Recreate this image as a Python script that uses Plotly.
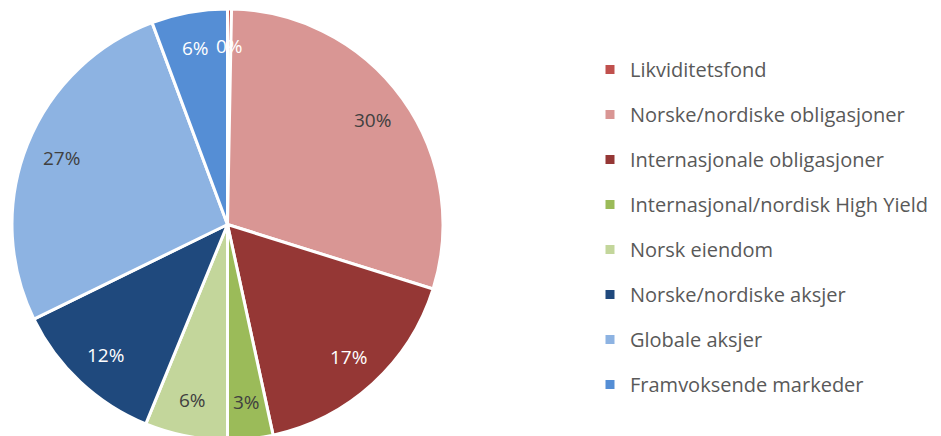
import math
import plotly.graph_objects as go

categories = [
    "Likviditetsfond",
    "Norske/nordiske obligasjoner",
    "Internasjonale obligasjoner",
    "Internasjonal/nordisk High Yield",
    "Norsk eiendom",
    "Norske/nordiske aksjer",
    "Globale aksjer",
    "Framvoksende markeder",
]
values = [0.3, 29.6, 16.8, 3.4, 6.2, 11.6, 26.6, 5.7]
colors = ["#C0504D", "#D99694", "#953735", "#9BBB59", "#C3D69B", "#1F497D", "#8DB3E2", "#558ED5"]
label_colors = ["#FFFFFF", "#404040", "#FFFFFF", "#404040", "#404040", "#FFFFFF", "#404040", "#FFFFFF"]

W, H = 941, 436
# pie geometry in figure pixels (page adds 8px offset)
PX0, PX1 = 4, 435
PY0, PY1 = 1, 432  # from top
dom_x = [PX0 / W, PX1 / W]
dom_y = [1 - PY1 / H, 1 - PY0 / H]

fig = go.Figure()
fig.add_trace(go.Pie(
    labels=categories,
    values=values,
    sort=False,
    direction="clockwise",
    rotation=0,
    marker=dict(colors=colors, line=dict(color="white", width=3)),
    textinfo="none",
    showlegend=False,
    hoverinfo="label+percent",
    domain=dict(x=dom_x, y=dom_y),
))

# percentage labels, placed from the data via slice mid-angles
total = sum(values)
cx = (PX0 + PX1) / 2
cy = (PY0 + PY1) / 2
r = min(PX1 - PX0, PY1 - PY0) / 2
cum = 0.0
for v, tc in zip(values, label_colors):
    mid = (cum + v / 2) / total * 2 * math.pi
    cum += v
    rr = 0.83 * r
    x = cx + rr * math.sin(mid)
    y = cy - rr * math.cos(mid)
    fig.add_annotation(
        x=x / W, y=1 - y / H, xref="paper", yref="paper",
        text=f"{round(100 * v / total):d}%", showarrow=False,
        font=dict(family="Open Sans", size=19, color=tc),
        xanchor="center", yanchor="middle",
    )

for name, c in zip(categories, colors):
    fig.add_trace(go.Scatter(
        x=[None], y=[None], mode="markers", name=name,
        marker=dict(symbol="square", size=9, color=c),
        legendgroup=name, showlegend=True,
    ))

fig.update_layout(
    width=W, height=H,
    margin=dict(l=0, r=0, t=0, b=0),
    paper_bgcolor="white", plot_bgcolor="white",
    xaxis=dict(visible=False), yaxis=dict(visible=False),
    legend=dict(
        x=582 / W, y=1 - 42 / H, xanchor="left", yanchor="top",
        font=dict(family="Open Sans", size=20, color="#595959"),
        tracegroupgap=16, itemwidth=30,
    ),
)
fig.write_html("out.html")
